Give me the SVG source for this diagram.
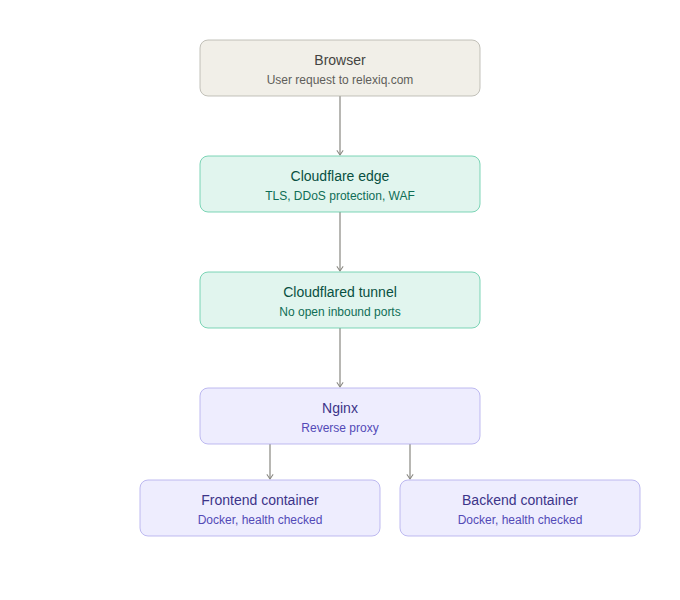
<svg xmlns="http://www.w3.org/2000/svg" width="680" height="600" viewBox="0 0 680 600">
<defs>
<marker id="arr" viewBox="0 0 10 10" refX="8" refY="5" markerWidth="6" markerHeight="6" orient="auto-start-reverse">
<path d="M2 1 L8 5 L2 9" fill="none" stroke="context-stroke" stroke-width="1.5" stroke-linecap="round" stroke-linejoin="round"/>
</marker>
</defs>
<style>
text{font-family:"Liberation Sans",Arial,sans-serif;text-anchor:middle;dominant-baseline:central}
.t{font-size:14px}
.s{font-size:12px}
.gray rect{fill:#F1EFE8;stroke:#B4B2A9;stroke-width:0.8}
.gray .t{fill:#444441}.gray .s{fill:#5F5E5A}
.green rect{fill:#E1F5EE;stroke:#5DCAA5;stroke-width:0.8}
.green .t{fill:#085041}.green .s{fill:#0F6E56}
.purple rect{fill:#EEEDFE;stroke:#AFA9EC;stroke-width:0.8}
.purple .t{fill:#3C3489}.purple .s{fill:#534AB7}
.c line{stroke:#888780;stroke-width:1.2;fill:none}
</style>
<g class="c">
<line x1="340" y1="96" x2="340" y2="155" marker-end="url(#arr)"/>
<line x1="340" y1="212" x2="340" y2="271" marker-end="url(#arr)"/>
<line x1="340" y1="328" x2="340" y2="387" marker-end="url(#arr)"/>
<line x1="270" y1="444" x2="270" y2="479" marker-end="url(#arr)"/>
<line x1="410" y1="444" x2="410" y2="479" marker-end="url(#arr)"/>
</g>
<g id="browser" class="gray">
<rect x="200" y="40" width="280" height="56" rx="8"/>
<text class="t" x="340" y="60">Browser</text>
<text class="s" x="340" y="80">User request to relexiq.com</text>
</g>
<g id="cloudflare" class="green">
<rect x="200" y="156" width="280" height="56" rx="8"/>
<text class="t" x="340" y="176">Cloudflare edge</text>
<text class="s" x="340" y="196">TLS, DDoS protection, WAF</text>
</g>
<g id="tunnel" class="green">
<rect x="200" y="272" width="280" height="56" rx="8"/>
<text class="t" x="340" y="292">Cloudflared tunnel</text>
<text class="s" x="340" y="312">No open inbound ports</text>
</g>
<g id="nginx" class="purple">
<rect x="200" y="388" width="280" height="56" rx="8"/>
<text class="t" x="340" y="408">Nginx</text>
<text class="s" x="340" y="428">Reverse proxy</text>
</g>
<g id="frontend" class="purple">
<rect x="140" y="480" width="240" height="56" rx="8"/>
<text class="t" x="260" y="500">Frontend container</text>
<text class="s" x="260" y="520">Docker, health checked</text>
</g>
<g id="backend" class="purple">
<rect x="400" y="480" width="240" height="56" rx="8"/>
<text class="t" x="520" y="500">Backend container</text>
<text class="s" x="520" y="520">Docker, health checked</text>
</g>
</svg>
